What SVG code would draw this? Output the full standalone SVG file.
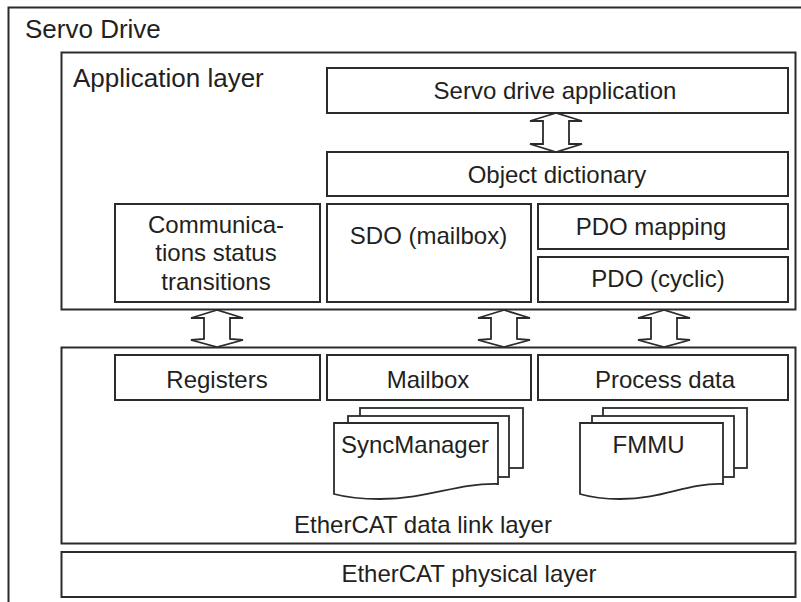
<svg xmlns="http://www.w3.org/2000/svg" width="801" height="602" viewBox="0 0 801 602">
<style>
.box{fill:#fff;stroke:#2b2b2b;stroke-width:2}
.pg{fill:#fff;stroke:#2b2b2b;stroke-width:1.8}
.arr{fill:#fff;stroke:#2b2b2b;stroke-width:1.8;stroke-linejoin:miter}
text{font-family:"Liberation Sans",Arial,sans-serif;fill:#231f20;font-size:24px}
.c{text-anchor:middle}
.t{font-size:26px}
</style>
<rect width="801" height="602" fill="#fff"/>
<g id="servo-drive">
<rect class="box" x="8.5" y="7.5" width="800" height="600"/>
<text class="t" x="25" y="38">Servo Drive</text>
</g>
<g id="application-layer">
<rect class="box" x="61.5" y="52.5" width="734" height="257"/>
<text class="t" x="73" y="86.5">Application layer</text>
</g>
<g id="servo-drive-application">
<rect class="box" x="327" y="68" width="461" height="45"/>
<text class="c" x="555" y="99">Servo drive application</text>
</g>
<g id="object-dictionary">
<rect class="box" x="327" y="152" width="461" height="44"/>
<text class="c" x="557" y="182.5">Object dictionary</text>
</g>
<g id="comm-status">
<rect class="box" x="115" y="204" width="205" height="98"/>
<text class="c" x="216" y="232.5">Communica-</text>
<text class="c" x="216" y="261">tions status</text>
<text class="c" x="216" y="289.5">transitions</text>
</g>
<g id="sdo">
<rect class="box" x="327" y="204" width="204" height="98"/>
<text class="c" x="428.5" y="244">SDO (mailbox)</text>
</g>
<g id="pdo-mapping">
<rect class="box" x="538" y="204" width="250" height="45"/>
<text class="c" x="651" y="235">PDO mapping</text>
</g>
<g id="pdo-cyclic">
<rect class="box" x="538" y="257" width="250" height="45"/>
<text class="c" x="658" y="287">PDO (cyclic)</text>
</g>
<g id="data-link-layer">
<rect class="box" x="61.5" y="347.5" width="734" height="196"/>
<text class="c" x="423" y="532.5">EtherCAT data link layer</text>
</g>
<g id="registers">
<rect class="box" x="115" y="355" width="205" height="45"/>
<text class="c" x="217" y="387.5">Registers</text>
</g>
<g id="mailbox">
<rect class="box" x="327" y="355" width="204" height="45"/>
<text class="c" x="428" y="387.5">Mailbox</text>
</g>
<g id="process-data">
<rect class="box" x="538" y="355" width="250" height="45"/>
<text class="c" x="665" y="387.5">Process data</text>
</g>
<g id="syncmanager">
<rect class="pg" x="360" y="408" width="163" height="60"/>
<rect class="pg" x="348" y="416" width="161" height="61"/>
<path class="pg" d="M334,423 H498 V484 C455,483 430,499 380,499 C360,499 345,497 334,494 Z"/>
<text class="c" x="415" y="453">SyncManager</text>
</g>
<g id="fmmu">
<rect class="pg" x="603" y="408" width="144" height="60"/>
<rect class="pg" x="592" y="416" width="142" height="61"/>
<path class="pg" d="M580,423 H723 V484 C685,483 665,499 620,499 C605,499 590,497 580,494 Z"/>
<text class="c" x="648.5" y="453">FMMU</text>
</g>
<g id="physical-layer">
<rect class="box" x="61.5" y="552" width="734" height="45"/>
<text class="c" x="469" y="582">EtherCAT physical layer</text>
</g>
<g id="connectors">
<path class="arr" d="M556,113 L530,121 L543,121 L543,144 L530,144 L556,152 L582,144 L569,144 L569,121 L582,121 Z"/>
<path class="arr" d="M217,310 L191,318 L204,318 L204,339 L191,340 L217,347 L243,340 L230,339 L230,318 L243,318 Z"/>
<path class="arr" d="M504,310 L478,318 L491,318 L491,339 L478,340 L504,347 L530,340 L517,339 L517,318 L530,318 Z"/>
<path class="arr" d="M664,310 L638,318 L651,318 L651,339 L638,340 L664,347 L690,340 L677,339 L677,318 L690,318 Z"/>
</g>
</svg>
